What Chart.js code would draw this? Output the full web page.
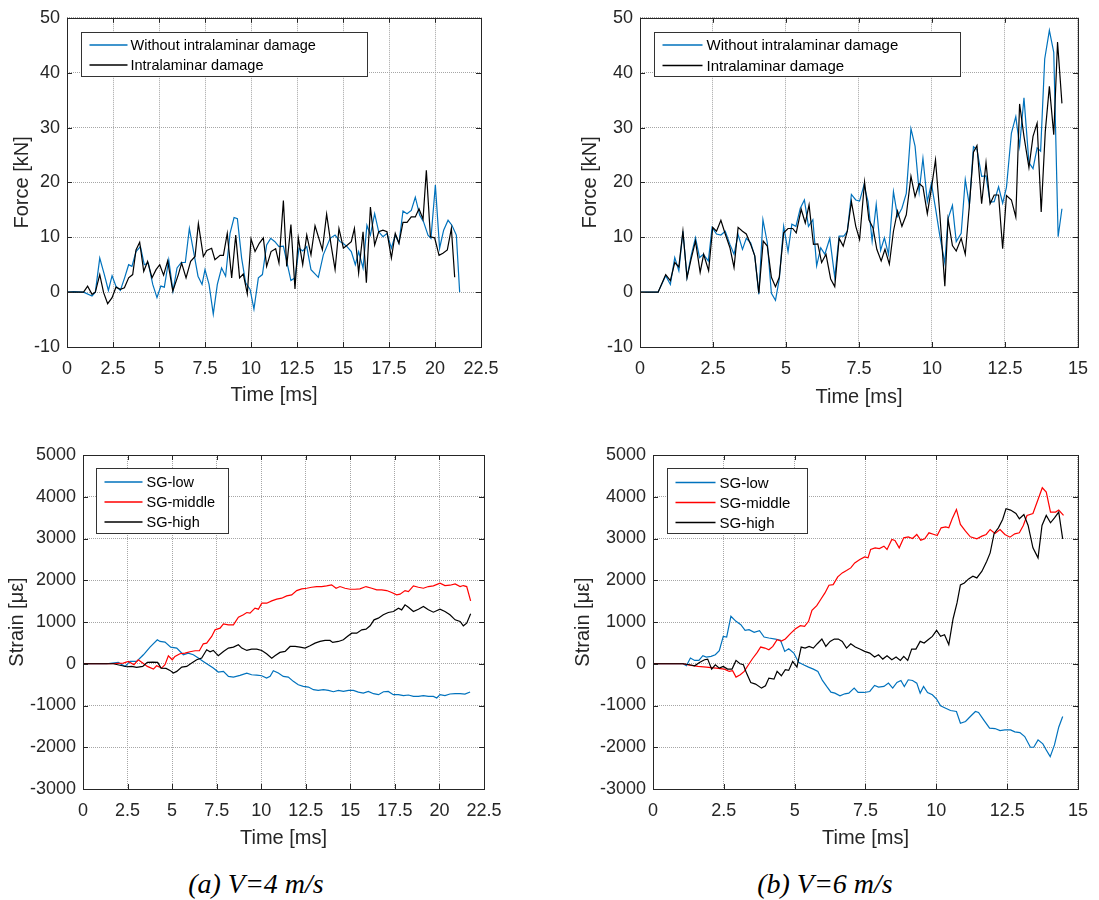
<!DOCTYPE html>
<html>
<head>
<meta charset="utf-8">
<script src="https://cdn.jsdelivr.net/npm/chart.js@4.4.1/dist/chart.umd.min.js"></script>
<style>
body{margin:0;background:#fff;width:1099px;height:900px;position:relative;overflow:hidden}
canvas{position:absolute}
.cap{position:absolute;top:867px;width:300px;text-align:center;font:italic 28px "Liberation Serif",serif;color:#000;line-height:34px}
</style>
</head>
<body>
<canvas id="forceA" width="549" height="430" style="left:0;top:0"></canvas>
<canvas id="forceB" width="550" height="430" style="left:549px;top:0"></canvas>
<canvas id="strainA" width="549" height="430" style="left:0;top:430px"></canvas>
<canvas id="strainB" width="550" height="430" style="left:549px;top:430px"></canvas>
<div class="cap" style="left:106px">(a) V=4 m/s</div>
<div class="cap" style="left:675px">(b) V=6 m/s</div>
<script>
// tick labels
const timeTicksA=[0,2.5,5,7.5,10,12.5,15,17.5,20,22.5];
const timeTicksB=[0,2.5,5,7.5,10,12.5,15];
const forceTicks=[-10,0,10,20,30,40,50];
const strainTicks=[-3000,-2000,-1000,0,1000,2000,3000,4000,5000];

// (a) V=4 m/s force [time ms, kN]
const forceA_without=[[0,0],[0.36,0.1],[0.9,0],[1.36,-0.7],[1.54,0],[1.78,6.2],[2.03,3.2],[2.25,0.3],[2.45,3],[2.66,1.1],[2.9,0.3],[3.13,2.6],[3.35,5],[3.53,4.7],[3.75,7.4],[3.99,8.3],[4.2,5],[4.42,5.3],[4.66,1.4],[4.89,-1],[5.1,1.1],[5.29,0.9],[5.53,5.9],[5.76,0.2],[5.98,4.4],[6.21,5.4],[6.43,5.4],[6.65,11.6],[6.88,7.4],[7.12,2.9],[7.34,1.4],[7.5,4.1],[7.72,1.4],[7.95,-4],[8.17,1.4],[8.4,4.4],[8.62,2.9],[8.86,10.7],[9.08,13.6],[9.26,13.4],[9.49,6.2],[9.71,1.7],[9.95,0.5],[10.16,-3.1],[10.4,2.6],[10.62,3.2],[10.85,8.6],[11.07,9.8],[11.3,9.2],[11.52,8.3],[11.76,8.4],[11.94,5.6],[12.17,2.1],[12.39,2.6],[12.61,8],[12.81,7.5],[13.03,8.3],[13.26,4.1],[13.66,2.7],[13.93,6.8],[14.3,9.8],[14.57,10.4],[14.84,9.2],[15,8.9],[15.22,8.3],[15.45,7.4],[15.67,5],[15.85,7.4],[16.09,4.4],[16.3,12.2],[16.49,10.4],[16.72,14.3],[16.94,11],[17.17,10.1],[17.39,10.7],[17.63,8],[17.84,10.4],[18.04,8.9],[18.26,14.8],[18.48,14.3],[18.71,14.9],[18.93,17.3],[19.17,14],[19.38,12.8],[19.62,10.4],[19.78,9.8],[20.02,19.5],[20.25,8],[20.47,11.3],[20.71,13.1],[20.92,12.2],[21.16,10.4],[21.34,0]];
const forceA_intra=[[0,0],[0.9,0],[1.12,1.1],[1.36,-0.4],[1.54,0],[1.78,3.2],[1.99,-0.1],[2.21,-2.1],[2.45,-1],[2.66,0.9],[2.9,0.5],[3.12,0.8],[3.35,2.6],[3.57,3.2],[3.75,7.7],[3.95,9.1],[4.17,3.8],[4.38,5.6],[4.62,2.6],[4.84,4.1],[5.04,5],[5.25,3.1],[5.47,5.7],[5.75,0.2],[6.05,3.2],[6.23,5.3],[6.47,2.6],[6.72,5.6],[6.96,6.5],[7.14,12.5],[7.41,6.5],[7.6,7.6],[7.86,8],[8.04,5.9],[8.32,6.7],[8.5,6.7],[8.71,10.7],[8.95,2.6],[9.17,10.4],[9.38,2.6],[9.58,3.3],[9.8,-0.3],[10,9.7],[10.22,7.4],[10.45,8.9],[10.67,9.9],[10.85,4.7],[11.09,7.4],[11.34,7.9],[11.52,5.3],[11.76,16.7],[11.94,4.7],[12.17,12.3],[12.39,0.6],[12.57,9.9],[12.81,5],[13.03,10.4],[13.26,6.8],[13.48,12.1],[13.88,7.7],[14.11,14.2],[14.35,8.6],[14.57,4.1],[14.78,11.6],[15.02,8],[15.24,8.6],[15.45,9.2],[15.62,11.6],[15.85,3.5],[16.09,11],[16.27,1.7],[16.49,15.5],[16.72,8.6],[16.94,11],[17.17,11.3],[17.39,11],[17.63,6.2],[17.84,10.7],[18.04,8.9],[18.26,12.7],[18.48,12.7],[18.71,13.7],[18.93,13.7],[19.13,15.2],[19.35,13.3],[19.53,22.2],[19.75,10.1],[19.98,9.9],[20.22,6.7],[20.43,7.1],[20.67,7.7],[20.89,11.6],[21.07,2.7]];

// (b) V=6 m/s force [time ms, kN]
const forceB_without=[[0,0],[0.62,0],[0.88,3],[1.04,1.4],[1.19,6.3],[1.33,3.9],[1.47,11.1],[1.61,2.7],[1.75,6.6],[1.9,9.9],[2.04,6.3],[2.17,6.9],[2.34,5.7],[2.47,11.8],[2.62,10.6],[2.77,10.4],[2.92,11.1],[3.08,8.7],[3.22,6.9],[3.36,10.5],[3.51,7.8],[3.64,9.8],[3.79,9],[3.93,6.6],[4.07,-0.4],[4.21,13.2],[4.36,9],[4.5,-0.2],[4.64,-1.5],[4.77,2.4],[4.92,12],[5.07,7.4],[5.2,12.4],[5.34,12],[5.49,15.3],[5.63,16.8],[5.77,12],[5.92,13.2],[6.05,4.8],[6.19,8.1],[6.33,6.9],[6.5,9.8],[6.67,2.7],[6.82,10.2],[6.98,10.2],[7.1,11.1],[7.24,17.8],[7.39,16.8],[7.52,16.6],[7.67,19.5],[7.81,16.5],[7.95,9.3],[8.09,16],[8.24,7.6],[8.37,9.9],[8.51,6.9],[8.68,18.3],[8.82,13.8],[8.97,15.3],[9.12,18],[9.28,29.8],[9.42,26.6],[9.56,18.3],[9.69,24.4],[9.84,16.5],[9.98,19.8],[10.12,15.3],[10.27,10.2],[10.44,5.3],[10.55,13.4],[10.7,15.8],[10.83,9.2],[11,10.7],[11.14,20.5],[11.28,15.8],[11.42,26.5],[11.54,26],[11.7,21.1],[11.85,21.2],[11.99,16.4],[12.13,16.5],[12.28,19.2],[12.42,16.2],[12.55,19.1],[12.72,29],[12.87,32],[13,26.6],[13.15,35.4],[13.32,23.6],[13.46,22.5],[13.6,26.3],[13.72,25.7],[13.86,42.5],[14.02,47.7],[14.17,43.7],[14.32,10.1],[14.45,15.2]];
const forceB_intra=[[0,0],[0.62,0],[0.88,3.2],[1.04,2.1],[1.19,5.4],[1.33,4.6],[1.47,11.1],[1.61,2.6],[1.75,6],[1.9,9.3],[2.06,3.6],[2.18,6.9],[2.35,3.9],[2.49,11.8],[2.62,11.1],[2.77,13.1],[2.92,10.6],[3.08,8.1],[3.22,4.5],[3.36,11.8],[3.51,11.1],[3.64,10.6],[3.79,8.7],[3.93,6.6],[4.07,-0.2],[4.22,9.3],[4.36,8.4],[4.5,2.7],[4.64,1],[4.77,2.7],[4.92,10.8],[5.07,11.6],[5.23,11.6],[5.35,10.8],[5.52,15.1],[5.66,12.6],[5.79,15.9],[5.94,8.7],[6.09,8.8],[6.22,5.4],[6.37,6.9],[6.53,2.4],[6.67,1],[6.82,9.8],[6.96,8.4],[7.1,11.1],[7.24,16.5],[7.39,12],[7.52,9.6],[7.69,20.1],[7.84,13.2],[7.98,11.7],[8.11,7.8],[8.26,5.7],[8.39,7.8],[8.54,5.1],[8.68,11.1],[8.82,14.8],[8.97,12],[9.12,14.1],[9.28,21.1],[9.42,17.4],[9.56,19.8],[9.69,19.2],[9.84,14.3],[9.98,18.9],[10.12,24.1],[10.27,14.1],[10.44,1.1],[10.55,13.3],[10.7,8.5],[10.83,7.5],[11,9.8],[11.14,6.9],[11.28,15.8],[11.42,25.5],[11.54,26.7],[11.7,16.1],[11.85,23.6],[11.99,16.1],[12.13,17.7],[12.28,17.7],[12.42,7.9],[12.55,17.6],[12.72,16.8],[12.87,13.7],[13,34.3],[13.15,28.4],[13.32,22.7],[13.46,28.4],[13.6,30.8],[13.74,14.6],[13.88,29.3],[14.02,37.5],[14.17,28.7],[14.3,45.6],[14.45,34.4]];

// (a) V=4 m/s strain [time ms, microstrain]
const strainA_low=[[0,0],[1.33,0],[1.98,32],[2.36,-64],[2.64,56],[3.01,56],[3.39,215],[3.76,398],[4.17,574],[4.32,534],[4.6,518],[4.92,398],[5.26,375],[5.63,215],[5.91,255],[6.19,215],[6.47,135],[6.75,56],[7.03,-24],[7.31,-104],[7.59,-199],[7.88,-183],[8.16,-303],[8.44,-319],[8.81,-279],[9.19,-223],[9.46,-263],[9.75,-271],[10.03,-287],[10.3,-343],[10.5,-303],[10.68,-167],[10.96,-223],[11.24,-303],[11.52,-319],[11.8,-422],[12.08,-502],[12.36,-542],[12.65,-558],[12.93,-622],[13.2,-638],[13.49,-622],[13.77,-638],[14.05,-670],[14.33,-638],[14.61,-662],[14.9,-638],[15.17,-638],[15.45,-678],[15.73,-701],[16.01,-662],[16.3,-717],[16.58,-741],[16.86,-670],[17.13,-662],[17.41,-741],[17.7,-741],[17.98,-765],[18.26,-749],[18.54,-781],[18.82,-781],[19.1,-765],[19.38,-781],[19.66,-781],[19.85,-821],[20.03,-741],[20.31,-765],[20.59,-725],[20.88,-717],[21.16,-717],[21.43,-725],[21.72,-678]];
const strainA_mid=[[0,0],[1.52,0],[2.26,16],[2.54,56],[2.86,-24],[3.1,96],[3.35,16],[3.61,-64],[3.95,-128],[4.13,-48],[4.41,-104],[4.6,-24],[4.79,191],[5.01,96],[5.16,175],[5.44,239],[5.72,255],[6,287],[6.29,311],[6.53,311],[6.75,478],[6.94,494],[7.22,654],[7.41,813],[7.69,853],[7.88,956],[8.16,932],[8.44,932],[8.72,1116],[9,1172],[9.19,1227],[9.37,1211],[9.65,1331],[9.84,1307],[10.03,1451],[10.31,1451],[10.59,1506],[10.87,1546],[11.15,1570],[11.43,1626],[11.71,1650],[11.99,1753],[12.27,1793],[12.55,1809],[12.83,1833],[13.11,1849],[13.39,1849],[13.67,1865],[13.95,1889],[14.2,1809],[14.42,1849],[14.7,1809],[14.98,1785],[15.26,1785],[15.54,1793],[15.88,1849],[16.2,1809],[16.48,1769],[16.76,1769],[17.04,1753],[17.32,1706],[17.6,1650],[17.79,1666],[18.07,1753],[18.26,1729],[18.54,1865],[18.82,1833],[19.1,1809],[19.38,1849],[19.66,1865],[20.03,1929],[20.31,1873],[20.59,1881],[20.88,1913],[21.16,1849],[21.34,1873],[21.53,1849],[21.75,1506]];
const strainA_high=[[0,0],[1.7,0],[2.45,-72],[2.73,-64],[3.01,-88],[3.35,-64],[3.61,32],[3.91,40],[4.19,32],[4.38,-104],[4.66,-112],[4.88,-159],[5.07,-223],[5.26,-183],[5.54,-80],[5.82,-64],[6.1,16],[6.38,96],[6.66,135],[6.94,335],[7.13,287],[7.31,319],[7.59,191],[7.88,295],[8.16,375],[8.44,398],[8.72,454],[8.91,375],[9.19,319],[9.46,351],[9.75,351],[10.03,319],[10.3,239],[10.59,135],[10.77,191],[11.05,271],[11.34,295],[11.62,414],[11.9,414],[12.18,398],[12.46,375],[12.74,430],[13.02,494],[13.3,534],[13.58,558],[13.86,558],[14.01,510],[14.33,534],[14.61,574],[14.83,654],[15.08,733],[15.36,733],[15.64,813],[15.88,829],[16.11,909],[16.33,1052],[16.57,1092],[16.85,1172],[17.13,1227],[17.42,1251],[17.7,1331],[17.88,1291],[18.07,1411],[18.26,1355],[18.54,1251],[18.82,1307],[19.1,1371],[19.38,1291],[19.66,1235],[20.03,1307],[20.31,1251],[20.59,1172],[20.88,1052],[21.16,1012],[21.34,909],[21.53,972],[21.75,1196]];

// (b) V=6 m/s strain [time ms, microstrain]
const strainB_low=[[0,0],[1.06,0],[1.18,-48],[1.32,136],[1.47,80],[1.62,80],[1.76,192],[1.88,160],[2.05,176],[2.2,216],[2.34,312],[2.48,656],[2.6,640],[2.75,1136],[2.93,1016],[3.1,936],[3.25,800],[3.39,816],[3.57,752],[3.76,792],[3.92,640],[4.09,616],[4.32,592],[4.5,560],[4.65,296],[4.79,360],[4.97,256],[5.14,32],[5.31,-24],[5.49,-80],[5.66,-128],[5.82,-184],[5.98,-400],[6.13,-544],[6.28,-680],[6.42,-704],[6.6,-768],[6.77,-720],[6.91,-704],[7.1,-584],[7.24,-688],[7.45,-688],[7.65,-664],[7.82,-520],[7.96,-560],[8.15,-544],[8.31,-464],[8.46,-584],[8.61,-448],[8.75,-400],[8.87,-544],[9.01,-384],[9.16,-400],[9.31,-464],[9.43,-704],[9.55,-544],[9.69,-688],[9.86,-744],[10.01,-848],[10.15,-1008],[10.33,-1064],[10.5,-1120],[10.71,-1144],[10.85,-1424],[11.03,-1384],[11.2,-1264],[11.38,-1144],[11.49,-1168],[11.67,-1344],[11.88,-1544],[12.07,-1552],[12.25,-1600],[12.42,-1584],[12.62,-1584],[12.77,-1632],[12.95,-1648],[13.12,-1744],[13.32,-2000],[13.44,-2000],[13.59,-1824],[13.76,-1920],[13.88,-2064],[14.02,-2224],[14.17,-1944],[14.32,-1520],[14.46,-1264]];
const strainB_mid=[[0,0],[1.06,0],[1.29,-32],[1.59,-64],[1.88,-80],[2.23,-104],[2.52,-128],[2.69,-184],[2.81,-168],[2.93,-320],[3.08,-264],[3.22,-184],[3.37,-24],[3.51,120],[3.68,272],[3.8,400],[3.95,376],[4.09,336],[4.23,416],[4.38,576],[4.53,544],[4.67,592],[4.85,720],[5.02,832],[5.2,912],[5.35,896],[5.49,1016],[5.61,1280],[5.78,1392],[5.93,1552],[6.07,1696],[6.21,1880],[6.36,1896],[6.52,2080],[6.68,2176],[6.83,2232],[6.98,2296],[7.12,2416],[7.3,2496],[7.47,2560],[7.59,2536],[7.68,2736],[7.84,2776],[7.99,2760],[8.15,2816],[8.26,2736],[8.43,2976],[8.54,2952],[8.69,2776],[8.85,3016],[9.01,3040],[9.16,3000],[9.31,3096],[9.45,2960],[9.59,2992],[9.74,3136],[9.92,3096],[10.03,3072],[10.17,3256],[10.33,3280],[10.44,3256],[10.56,3472],[10.71,3696],[10.85,3336],[11.03,3176],[11.2,3040],[11.43,2992],[11.61,3056],[11.76,3096],[11.9,3216],[12.07,3120],[12.25,3216],[12.42,3096],[12.6,3032],[12.77,3112],[12.93,3136],[13.07,3312],[13.2,3552],[13.41,3600],[13.59,3936],[13.74,4216],[13.88,4112],[14.03,3632],[14.21,3632],[14.32,3680],[14.49,3552]];
const strainB_high=[[0,0],[1.06,0],[1.29,-24],[1.47,-48],[1.64,32],[1.82,96],[1.93,112],[2.07,-128],[2.2,-24],[2.34,-104],[2.48,-64],[2.63,-128],[2.79,-128],[2.93,80],[3.07,0],[3.19,-24],[3.3,-224],[3.45,-448],[3.62,-488],[3.83,-584],[3.97,-528],[4.09,-344],[4.27,-368],[4.38,-184],[4.53,-288],[4.67,-144],[4.79,-160],[4.93,56],[5.08,-80],[5.23,400],[5.37,376],[5.51,416],[5.66,376],[5.8,480],[5.96,592],[6.1,416],[6.25,536],[6.4,592],[6.54,592],[6.68,536],[6.83,376],[6.98,480],[7.14,400],[7.3,352],[7.47,296],[7.65,256],[7.82,160],[7.96,216],[8.11,112],[8.26,192],[8.43,96],[8.58,160],[8.73,80],[8.85,176],[8.99,80],[9.13,352],[9.28,352],[9.43,536],[9.57,496],[9.71,576],[9.86,656],[10.01,800],[10.15,656],[10.29,696],[10.44,456],[10.59,1072],[10.73,1456],[10.85,1888],[10.99,1936],[11.14,2032],[11.29,2096],[11.43,2056],[11.61,2216],[11.78,2456],[11.9,2656],[12.04,3120],[12.19,3256],[12.34,3456],[12.46,3712],[12.62,3680],[12.81,3600],[12.93,3472],[13.09,3576],[13.24,3312],[13.41,2776],[13.59,2536],[13.73,3312],[13.88,3552],[14.03,3376],[14.17,3496],[14.32,3632],[14.46,2992]];

const BLUE='#0072BD', RED='#FF0000', BLACK='#000000', INK='#262626';
const FAMILY='"Liberation Sans", Arial, sans-serif';

// axes box, inward ticks and the boxed legend inside the plot
const matlabFrame={
  id:'matlabFrame',
  afterDatasetsDraw(chart,args,o){
    const {ctx,chartArea:a,scales:{x,y}}=chart;
    ctx.save();
    ctx.strokeStyle=INK;ctx.lineWidth=1;
    ctx.beginPath();
    x.ticks.forEach(t=>{
      const p=Math.round(x.getPixelForValue(t.value))+0.5;
      ctx.moveTo(p,a.bottom);ctx.lineTo(p,a.bottom-5);
      ctx.moveTo(p,a.top);ctx.lineTo(p,a.top+5);
    });
    y.ticks.forEach(t=>{
      const p=Math.round(y.getPixelForValue(t.value))+0.5;
      ctx.moveTo(a.left,p);ctx.lineTo(a.left+5,p);
      ctx.moveTo(a.right,p);ctx.lineTo(a.right-5,p);
    });
    ctx.stroke();
    ctx.strokeRect(Math.round(a.left)+0.5,Math.round(a.top)+0.5,Math.round(a.right-a.left),Math.round(a.bottom-a.top));

    // legend
    const bx=Math.round(a.left+o.dx)+0.5, by=Math.round(a.top+o.dy)+0.5;
    ctx.fillStyle='#fff';
    ctx.fillRect(bx,by,o.w,o.h);
    ctx.strokeStyle='#333';
    ctx.strokeRect(bx,by,o.w,o.h);
    ctx.font=o.size+'px '+FAMILY;
    ctx.textBaseline='middle';
    chart.data.datasets.forEach((ds,i)=>{
      const cy=by+o.first+i*o.row;
      ctx.strokeStyle=ds.borderColor;ctx.lineWidth=1.3;
      ctx.beginPath();ctx.moveTo(bx+8,cy);ctx.lineTo(bx+o.lineEnd,cy);ctx.stroke();
      ctx.fillStyle='#000';
      ctx.fillText(ds.label,bx+o.textX,cy+1);
    });
    ctx.restore();
  }
};

function axis(ticks,title,fit,isX,titlePad){
  return {
    type:'linear',
    min:ticks[0],max:ticks[ticks.length-1],
    afterBuildTicks:s=>{s.ticks=ticks.map(v=>({value:v}));},
    afterFit:s=>{ if(isX) s.height=fit; else s.width=fit; },
    grid:{color:'#a6a6a6',lineWidth:1,drawTicks:false},
    border:{display:false,dash:[1,1]},
    ticks:{padding:isX?11:7,color:INK,font:{family:FAMILY,size:18},autoSkip:false,maxRotation:0,callback:v=>String(v)},
    title:{display:true,text:title,color:INK,font:{family:FAMILY,size:20},padding:isX?{bottom:titlePad}:{top:titlePad}}
  };
}

function plot(id,series,xTicks,yTicks,yTitle,g,leg){
  new Chart(document.getElementById(id),{
    type:'line',
    data:{datasets:series.map((s,i)=>({
      label:s[0],
      data:s[1].map(p=>({x:p[0],y:p[1]})),
      borderColor:s[2],borderWidth:1.2,pointRadius:0,tension:0,fill:false,order:-i
    }))},
    options:{
      responsive:false,animation:false,
      layout:{padding:{top:g.top,right:g.right,left:0,bottom:0}},
      scales:{
        x:axis(xTicks,'Time [ms]',g.xH,true,g.xtp),
        y:axis(yTicks,yTitle,g.yW,false,g.ytp)
      },
      plugins:{legend:{display:false},tooltip:{enabled:false},matlabFrame:leg}
    },
    plugins:[matlabFrame]
  });
}

plot('forceA',
  [['Without intralaminar damage',forceA_without,BLUE],['Intralaminar damage',forceA_intra,BLACK]],
  timeTicksA,forceTicks,'Force [kN]',
  {top:13,right:68,yW:67,xH:83,xtp:23,ytp:10},
  {dx:14,dy:14,w:286,h:44,first:12.5,row:20,size:14.5,lineEnd:46,textX:49});

plot('forceB',
  [['Without intralaminar damage',forceB_without,BLUE],['Intralaminar damage',forceB_intra,BLACK]],
  timeTicksB,forceTicks,'Force [kN]',
  {top:13,right:17,yW:91,xH:83,xtp:21,ytp:29},
  {dx:14,dy:14,w:306,h:44,first:12.5,row:20.5,size:15,lineEnd:48,textX:52});

plot('strainA',
  [['SG-low',strainA_low,BLUE],['SG-middle',strainA_mid,RED],['SG-high',strainA_high,BLACK]],
  timeTicksA,strainTicks,'Strain [\u03bc\u03b5]',
  {top:25,right:65,yW:83,xH:71,xtp:10,ytp:5},
  {dx:13,dy:13,w:132,h:65,first:13.5,row:20,size:14.5,lineEnd:46,textX:50});

plot('strainB',
  [['SG-low',strainB_low,BLUE],['SG-middle',strainB_mid,RED],['SG-high',strainB_high,BLACK]],
  timeTicksB,strainTicks,'Strain [\u03bc\u03b5]',
  {top:25,right:17,yW:104,xH:71,xtp:10,ytp:22},
  {dx:14,dy:13,w:140,h:65,first:14,row:20,size:15,lineEnd:48,textX:52});
</script>
</body>
</html>
